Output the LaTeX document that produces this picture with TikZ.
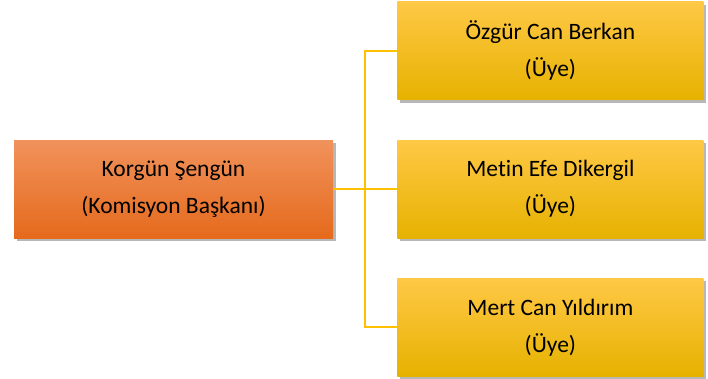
\documentclass[tikz,border=0pt]{standalone}
\usepackage{fontspec}
\setmainfont[Ligatures=NoCommon]{Carlito}
\usetikzlibrary{positioning,shadows}
\definecolor{orgtop}{RGB}{241,146,92}
\definecolor{orgmid}{RGB}{238,124,46}
\definecolor{orgbot}{RGB}{229,106,28}
\definecolor{yeltop}{RGB}{255,200,70}
\definecolor{yelmid}{RGB}{255,192,0}
\definecolor{yelbot}{RGB}{230,178,0}
\definecolor{linkcol}{RGB}{255,192,0}
\tikzset{card/.style={minimum height=98pt, align=center, font=\fontsize{23.5}{37}\selectfont,
    drop shadow={shadow xshift=2.5pt, shadow yshift=-3pt, opacity=0.4, fill=black!70}}}
\tikzset{chief/.style={card, minimum width=319pt, top color=orgtop, middle color=orgmid, bottom color=orgbot}}
\tikzset{member/.style={card, minimum width=306pt, top color=yeltop, middle color=yelmid, bottom color=yelbot}}
\tikzset{link/.style={draw=linkcol, line width=2pt}}
\begin{document}
\begin{tikzpicture}[x=1pt,y=1pt]
	\useasboundingbox (0,0) rectangle (708,-378);
	\node[chief] (boss) at (173.5,-189) {Korgün Şengün\\(Komisyon Başkanı)};
	\node[member,right=64pt of boss] (mid) {Metin Efe Dikergil\\(Üye)};
	\node[member,above=40pt of mid] (top) {Özgür Can Berkan\\(Üye)};
	\node[member,below=40pt of mid] (bot) {Mert Can Yıldırım\\(Üye)};
	%
	\coordinate (jn) at (365,-189);
	\draw[link] (boss.east) -- (mid.west);
	\draw[link] (top.west) -| (jn) |- (bot.west);
\end{tikzpicture}
\end{document}
